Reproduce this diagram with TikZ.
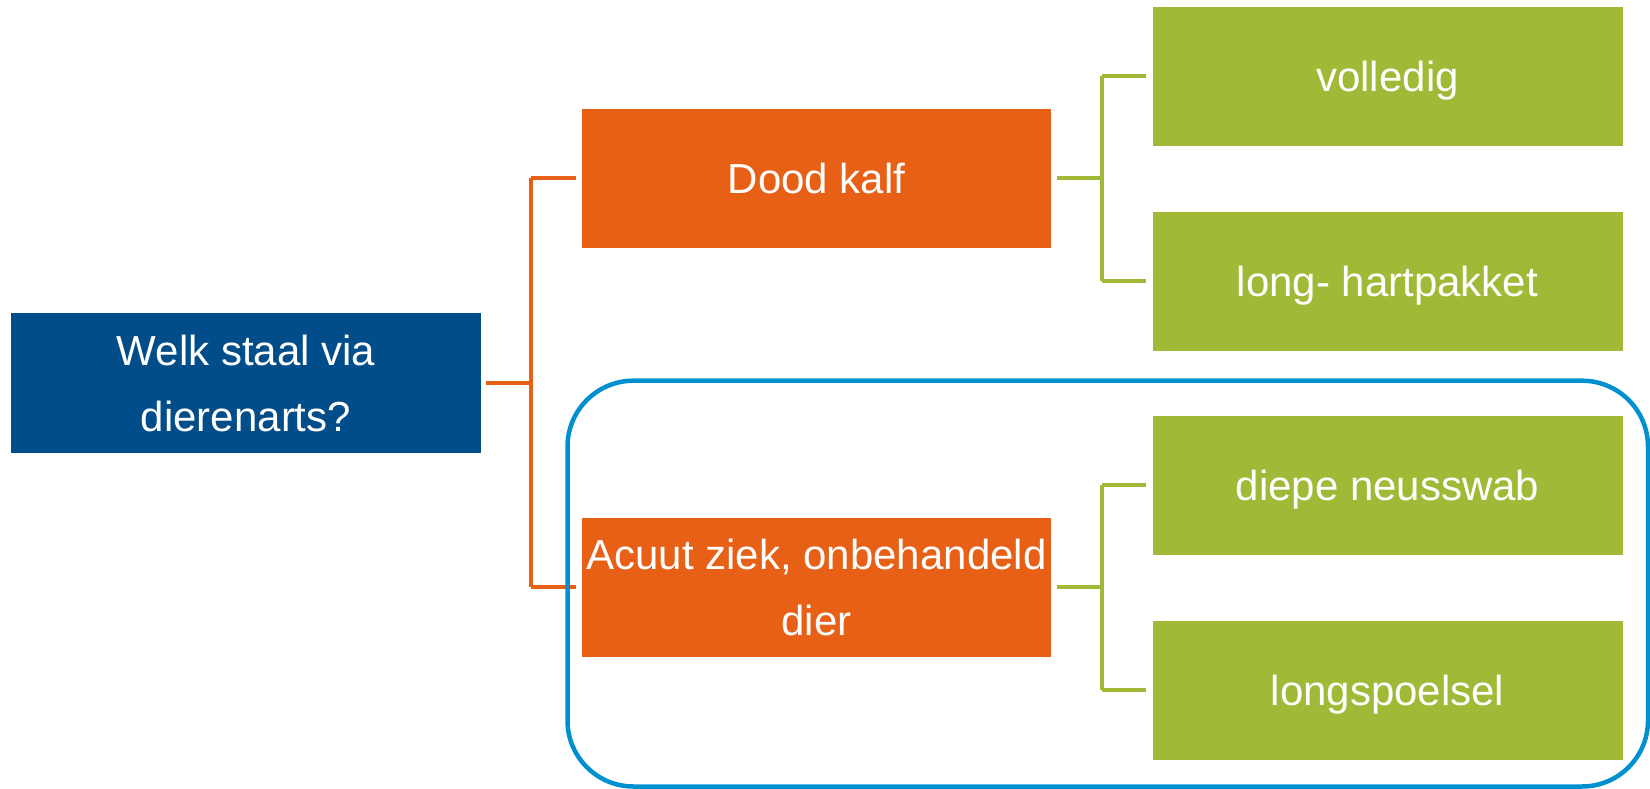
\documentclass[tikz,border=0pt]{standalone}
\usepackage{fontspec}
\setmainfont{Liberation Sans}
\definecolor{qblue}{RGB}{0,77,138}
\definecolor{oorange}{RGB}{232,96,22}
\definecolor{ggreen}{RGB}{160,185,55}
\definecolor{fblue}{RGB}{0,144,208}
\begin{document}
\begin{tikzpicture}[x=1pt,y=-1pt,
  basebox/.style={rectangle,inner sep=0pt,minimum width=470pt,minimum height=139pt,
    text=white,font=\fontsize{42}{66}\selectfont,align=center},
  oneline/.style={text height=30pt,text depth=0pt},
  qbox/.style={basebox,fill=qblue,minimum height=140pt},
  obox/.style={basebox,fill=oorange,minimum width=469pt},
  gbox/.style={basebox,oneline,fill=ggreen},
  oline/.style={draw=oorange,line width=4pt},
  gline/.style={draw=ggreen,line width=4pt},
  frame/.style={draw=fblue,line width=4.5pt,rounded corners=66pt}]
\useasboundingbox (0,0) rectangle (1650,789);
\node[qbox] (q) at (246,383) {Welk staal via\\dierenarts?};
\node[obox,oneline] (dk) at (816.5,178.4) {Dood kalf};
\node[obox] (ac) at (816.5,587.4) {Acuut ziek, onbehandeld\\dier};
\node[gbox] (vo) at (1387.5,76.4) {volledig};
\node[gbox] (lh) at (1387.5,281) {long- hartpakket};
\node[gbox] (dn) at (1387.5,485.4) {diepe neusswab};
\node[gbox] (ls) at (1387.5,690) {longspoelsel};
\coordinate (oj) at ([xshift=50pt]q.east);
\draw[oline] ([xshift=5pt]q.east) -- (oj);
\draw[oline] (oj |- dk.west) -- (oj |- ac.west);
\draw[oline] (oj |- dk.west) -- ([xshift=-6pt]dk.west);
\draw[oline] (oj |- ac.west) -- ([xshift=-6pt]ac.west);
\coordinate (gj1) at ([xshift=51pt]dk.east);
\draw[gline] ([xshift=6pt]dk.east) -- (gj1);
\draw[gline] (gj1 |- vo.west) -- (gj1 |- lh.west);
\draw[gline] (gj1 |- vo.west) -- ([xshift=-6pt]vo.west);
\draw[gline] (gj1 |- lh.west) -- ([xshift=-6pt]lh.west);
\coordinate (gj2) at ([xshift=51pt]ac.east);
\draw[gline] ([xshift=6pt]ac.east) -- (gj2);
\draw[gline] (gj2 |- dn.west) -- (gj2 |- ls.west);
\draw[gline] (gj2 |- dn.west) -- ([xshift=-6pt]dn.west);
\draw[gline] (gj2 |- ls.west) -- ([xshift=-6pt]ls.west);
\coordinate (f1) at (567.5,380.7);
\coordinate (f2) at (1648,786.5);
\draw[frame] (f1) rectangle (f2);
\end{tikzpicture}
\end{document}
